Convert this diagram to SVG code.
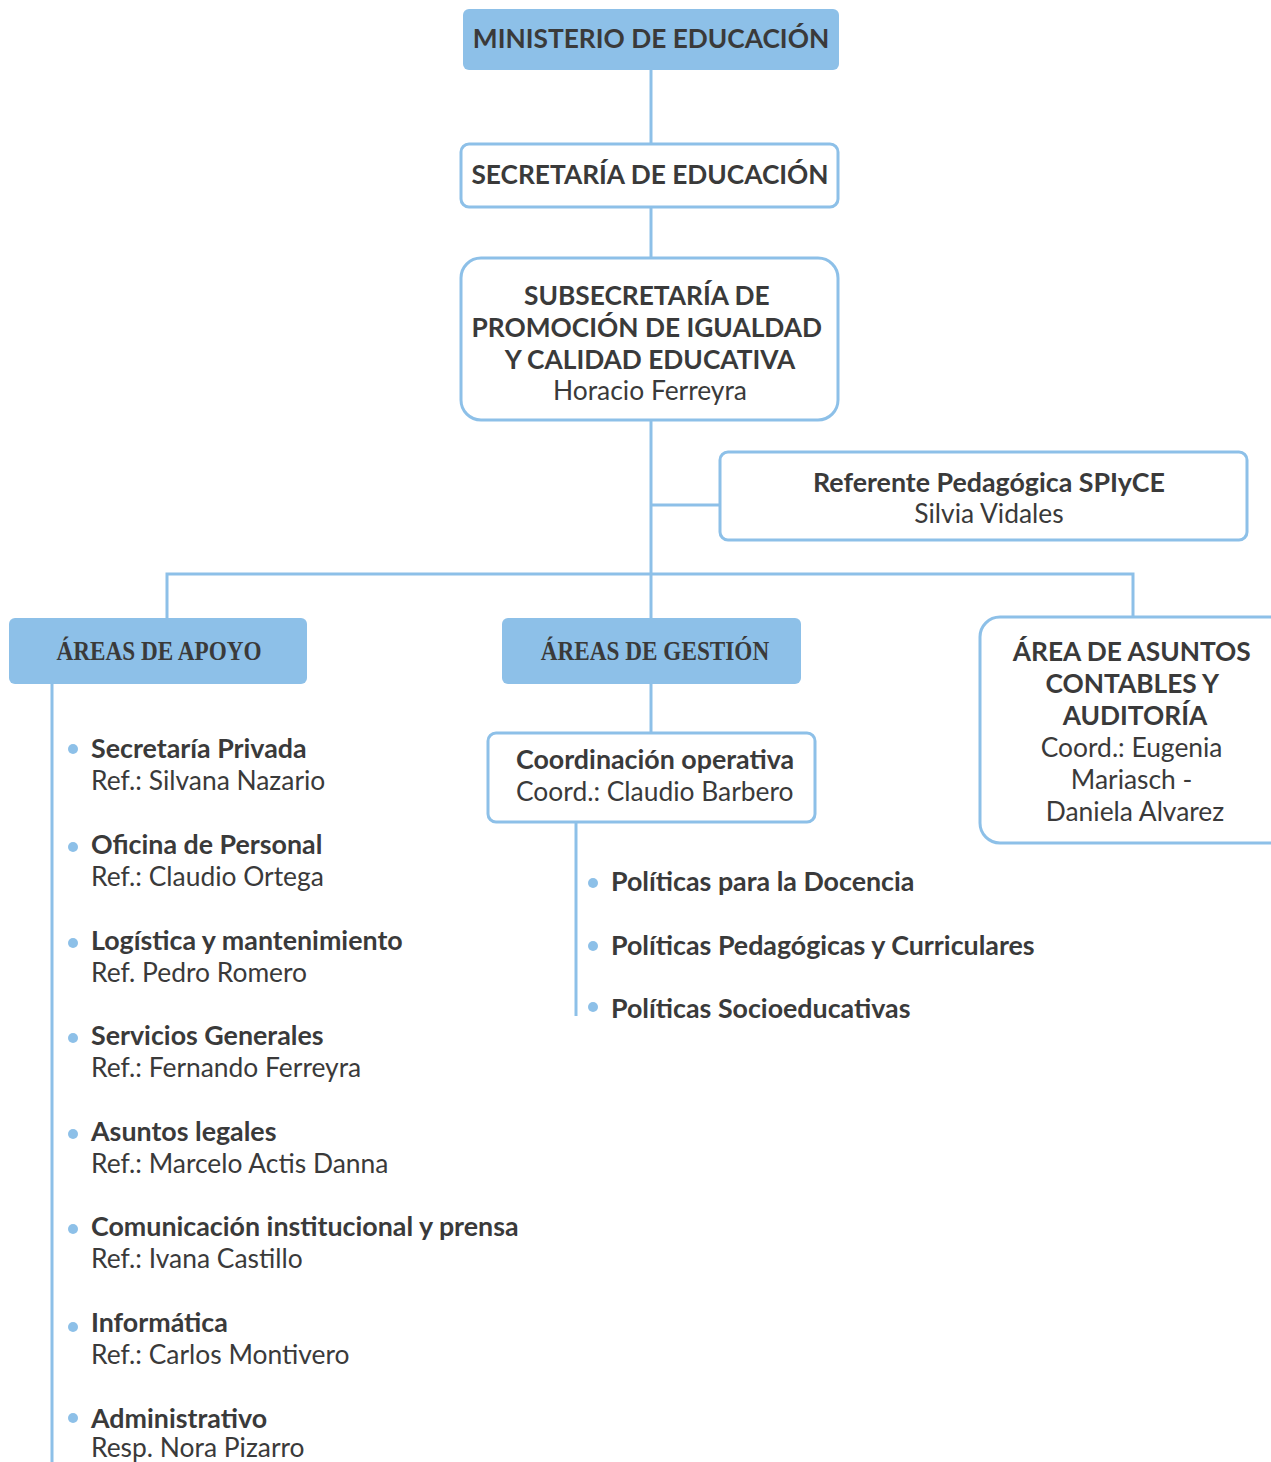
<svg xmlns="http://www.w3.org/2000/svg" width="1271" height="1462" viewBox="0 0 1271 1462">
<style>
.t{font-family:Lato,"Open Sans","Liberation Sans",sans-serif;fill:#3a3a3a}
.b{font-weight:700;font-size:26.8px}
.r{font-weight:400;font-size:26.4px}
.c{font-weight:700;font-size:26.3px}
.s{font-family:"Liberation Serif","DejaVu Serif",serif;font-weight:700;fill:#3a3a3a;font-size:27px}
.fill{fill:#8dc0e8}
.box{fill:#fff;stroke:#8dc0e8;stroke-width:3}
.ln{stroke:#8dc0e8;stroke-width:3;fill:none}
.dot{fill:#8dc0e8}
</style>
<rect width="1271" height="1462" fill="#fff"/>
<g id="connectors">
<line class="ln" x1="651" y1="70" x2="651" y2="144"/>
<line class="ln" x1="651" y1="207" x2="651" y2="258"/>
<line class="ln" x1="651" y1="420" x2="651" y2="618"/>
<line class="ln" x1="651" y1="505" x2="720" y2="505"/>
<polyline class="ln" points="167,618 167,574 1133,574 1133,618"/>
<line class="ln" x1="52" y1="684" x2="52" y2="1462"/>
<line class="ln" x1="651" y1="684" x2="651" y2="733"/>
<line class="ln" x1="576" y1="822" x2="576" y2="1016"/>
</g>
<g id="ministerio">
<rect class="fill" x="463" y="9" width="376" height="61" rx="6"/>
<text class="t c" x="651" y="48" text-anchor="middle">MINISTERIO DE EDUCACIÓN</text>
</g>
<g id="secretaria">
<rect class="box" x="461" y="144" width="377" height="63" rx="8"/>
<text class="t c" x="650" y="184" text-anchor="middle">SECRETARÍA DE EDUCACIÓN</text>
</g>
<g id="subsecretaria">
<rect class="box" x="461" y="258" width="377" height="162" rx="20"/>
<text class="t c" text-anchor="middle">
<tspan x="650" y="305">SUBSECRETARÍA DE</tspan>
<tspan x="650" y="337">PROMOCIÓN DE IGUALDAD</tspan>
<tspan x="650" y="369">Y CALIDAD EDUCATIVA</tspan>
</text>
<text class="t r" x="650" y="400" text-anchor="middle">Horacio Ferreyra</text>
</g>
<g id="referente">
<rect class="box" x="720" y="452" width="527" height="88" rx="8"/>
<text class="t b" x="989" y="492" text-anchor="middle">Referente Pedagógica SPIyCE</text>
<text class="t r" x="989" y="523" text-anchor="middle">Silvia Vidales</text>
</g>
<g id="areas-apoyo">
<rect class="fill" x="9" y="618" width="298" height="66" rx="6"/>
<text class="s" transform="translate(159,660) scale(0.86,1)" x="0" y="0" text-anchor="middle">ÁREAS DE APOYO</text>
</g>
<g id="areas-gestion">
<rect class="fill" x="502" y="618" width="299" height="66" rx="6"/>
<text class="s" transform="translate(655,660) scale(0.86,1)" x="0" y="0" text-anchor="middle">ÁREAS DE GESTIÓN</text>
</g>
<g id="asuntos-contables">
<rect class="box" x="980" y="617" width="310" height="226" rx="20"/>
<text class="t c" text-anchor="middle">
<tspan x="1135" y="661">ÁREA DE ASUNTOS</tspan>
<tspan x="1135" y="693">CONTABLES Y</tspan>
<tspan x="1135" y="725">AUDITORÍA</tspan>
</text>
<text class="t r" text-anchor="middle">
<tspan x="1135" y="757">Coord.: Eugenia</tspan>
<tspan x="1135" y="789">Mariasch -</tspan>
<tspan x="1135" y="821">Daniela Alvarez</tspan>
</text>
</g>
<g id="coordinacion">
<rect class="box" x="488" y="733" width="327" height="89" rx="8"/>
<text class="t b" x="516" y="769">Coordinación operativa</text>
<text class="t r" x="516" y="801">Coord.: Claudio Barbero</text>
</g>
<g id="apoyo-list">
<circle class="dot" cx="73" cy="749" r="5"/>
<text class="t b" x="91" y="758">Secretaría Privada</text>
<text class="t r" x="91" y="790">Ref.: Silvana Nazario</text>
<circle class="dot" cx="73" cy="847" r="5"/>
<text class="t b" x="91" y="854">Oficina de Personal</text>
<text class="t r" x="91" y="886">Ref.: Claudio Ortega</text>
<circle class="dot" cx="73" cy="943" r="5"/>
<text class="t b" x="91" y="950">Logística y mantenimiento</text>
<text class="t r" x="91" y="982">Ref. Pedro Romero</text>
<circle class="dot" cx="73" cy="1038" r="5"/>
<text class="t b" x="91" y="1045">Servicios Generales</text>
<text class="t r" x="91" y="1077">Ref.: Fernando Ferreyra</text>
<circle class="dot" cx="73" cy="1134" r="5"/>
<text class="t b" x="91" y="1141">Asuntos legales</text>
<text class="t r" x="91" y="1173">Ref.: Marcelo Actis Danna</text>
<circle class="dot" cx="73" cy="1229" r="5"/>
<text class="t b" x="91" y="1236">Comunicación institucional y prensa</text>
<text class="t r" x="91" y="1268">Ref.: Ivana Castillo</text>
<circle class="dot" cx="73" cy="1327" r="5"/>
<text class="t b" x="91" y="1332">Informática</text>
<text class="t r" x="91" y="1364">Ref.: Carlos Montivero</text>
<circle class="dot" cx="73" cy="1418" r="5"/>
<text class="t b" x="91" y="1428">Administrativo</text>
<text class="t r" x="91" y="1457">Resp. Nora Pizarro</text>
</g>
<g id="gestion-list">
<circle class="dot" cx="593" cy="883" r="5"/>
<text class="t b" x="611" y="891">Políticas para la Docencia</text>
<circle class="dot" cx="593" cy="946" r="5"/>
<text class="t b" x="611" y="955">Políticas Pedagógicas y Curriculares</text>
<circle class="dot" cx="593" cy="1007" r="5"/>
<text class="t b" x="611" y="1018">Políticas Socioeducativas</text>
</g>
</svg>
